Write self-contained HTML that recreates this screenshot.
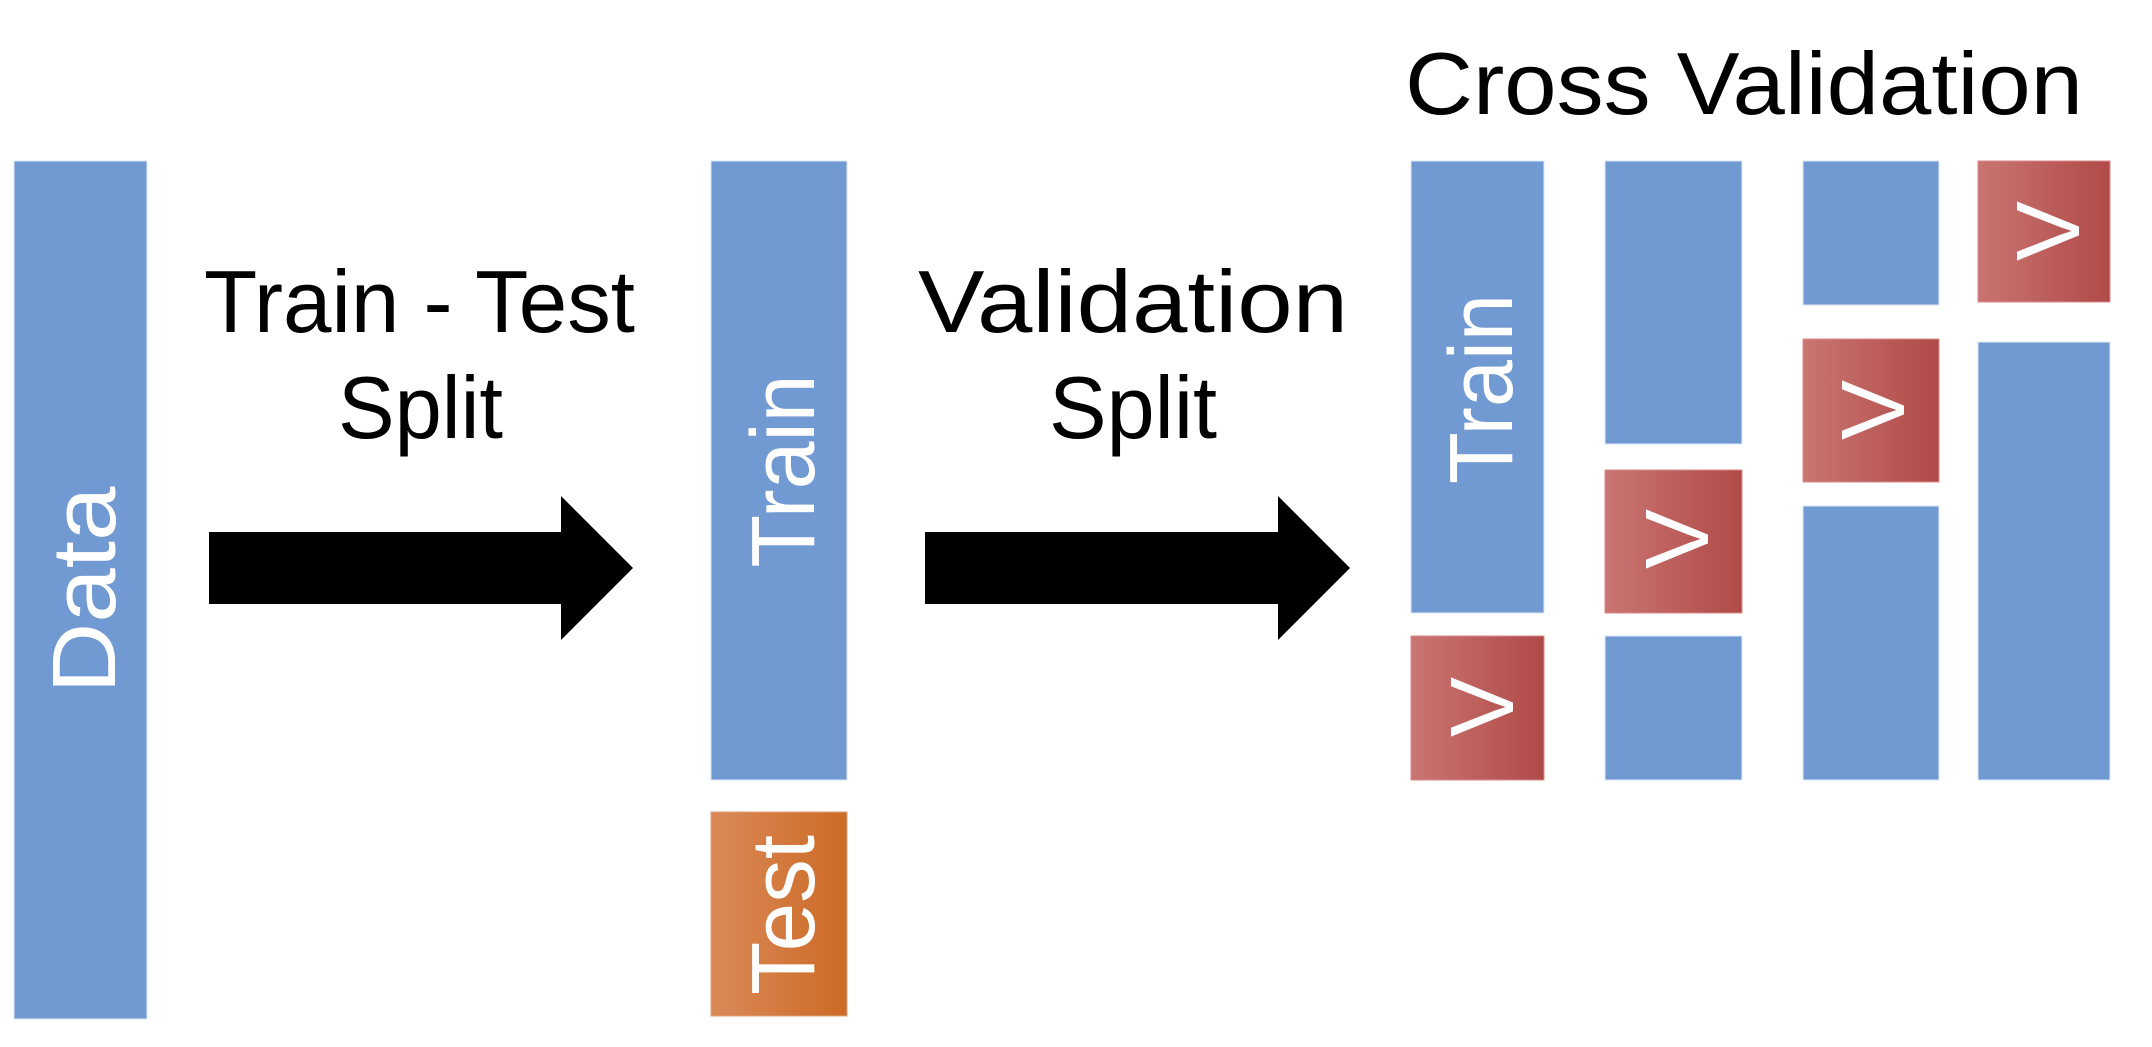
<!DOCTYPE html>
<html><head><meta charset="utf-8"><style>
html,body{margin:0;padding:0;background:#fff;}
svg{display:block;}
text{font-family:"Liberation Sans",sans-serif;}
</style></head><body>
<svg width="2152" height="1047" viewBox="0 0 2152 1047" xmlns="http://www.w3.org/2000/svg">
<defs>
<linearGradient id="rg" x1="0" y1="0" x2="1" y2="0"><stop offset="0" stop-color="#c97572"/><stop offset="1" stop-color="#b04a48"/></linearGradient>
<linearGradient id="og" x1="0" y1="0" x2="1" y2="0"><stop offset="0" stop-color="#da8a58"/><stop offset="1" stop-color="#cc6a26"/></linearGradient>
</defs>
<g fill="#729ad2" stroke="#dde6f4" stroke-width="1">
<rect x="14" y="161" width="133" height="858"/>
<rect x="711" y="161" width="136" height="619"/>
<rect x="1411" y="161" width="133" height="452"/>
<rect x="1605" y="161" width="137" height="283"/>
<rect x="1605" y="636" width="137" height="144"/>
<rect x="1803" y="161" width="136" height="144"/>
<rect x="1803" y="506" width="136" height="274"/>
<rect x="1978" y="342" width="132" height="438"/>
</g>
<rect x="711" y="812" width="136" height="204" fill="url(#og)" stroke="#e0a27a"/>
<g fill="url(#rg)" stroke="#d98a88">
<rect x="1411" y="636" width="133" height="144"/>
<rect x="1605" y="470" width="137" height="143"/>
<rect x="1803" y="339" width="136" height="143"/>
<rect x="1978" y="161" width="132" height="141"/>
</g>
<g fill="#000">
<polygon points="209,532 561,532 561,496 633,568 561,640 561,604 209,604"/>
<polygon points="925,532 1278,532 1278,496 1350,568 1278,640 1278,604 925,604"/>
</g>
<g font-size="88" fill="#000">
<text x="204" y="332" textLength="431" lengthAdjust="spacingAndGlyphs">Train - Test</text>
<text x="338" y="438" textLength="165" lengthAdjust="spacingAndGlyphs">Split</text>
<text x="918" y="332" textLength="430" lengthAdjust="spacingAndGlyphs">Validation</text>
<text x="1049" y="438" textLength="168" lengthAdjust="spacingAndGlyphs">Split</text>
<text x="1405" y="114" textLength="678" lengthAdjust="spacingAndGlyphs">Cross Validation</text>
</g>
<g font-size="90" fill="#fff" text-anchor="middle">
<text transform="translate(115,590) rotate(-90)" textLength="207" lengthAdjust="spacingAndGlyphs">Data</text>
<text transform="translate(814,471) rotate(-90)" textLength="193" lengthAdjust="spacingAndGlyphs">Train</text>
<text transform="translate(814,915) rotate(-90)" textLength="160" lengthAdjust="spacingAndGlyphs">Test</text>
<text transform="translate(1512,389) rotate(-90)" textLength="190" lengthAdjust="spacingAndGlyphs">Train</text>
<text transform="translate(1513,707) rotate(-90)">V</text>
<text transform="translate(1708,539) rotate(-90)">V</text>
<text transform="translate(1904,410) rotate(-90)">V</text>
<text transform="translate(2079,231) rotate(-90)">V</text>
</g>
</svg>
</body></html>
